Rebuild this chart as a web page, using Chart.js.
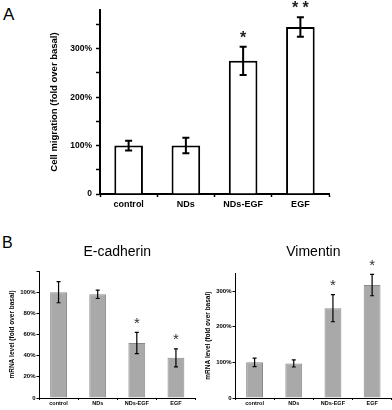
<!DOCTYPE html>
<html><head><meta charset="utf-8">
<script src="https://cdn.jsdelivr.net/npm/chart.js@4.4.1/dist/chart.umd.min.js"></script>
<style>
body{margin:0;background:#fff;width:392px;height:410px;overflow:hidden;position:relative;font-family:"Liberation Sans",Arial,sans-serif}
canvas{position:absolute}
.lbl{position:absolute;line-height:1;color:#000}
</style></head><body>
<div class="lbl" style="left:3px;top:6px;font-size:17px">A</div>
<div class="lbl" style="left:2px;top:235px;font-size:16px">B</div>
<canvas id="cA" width="392" height="215" style="left:0;top:0"></canvas>
<canvas id="cE" width="198" height="170" style="left:0;top:240px"></canvas>
<canvas id="cV" width="196" height="170" style="left:196px;top:240px"></canvas>
<script>
const categories = ['control', 'NDs', 'NDs-EGF', 'EGF'];

const migrationValues = [100, 100, 275, 345];
const migrationErrors = [10, 16, 29, 20];
const migrationStars = ['', '', '*', '* *'];
const migrationTicks = [0, 100, 200, 300];

const ecadValues = [100, 98, 52, 38];
const ecadErrors = [10, 4, 10, 8.5];
const ecadStars = ['', '', '*', '*'];
const ecadTicks = [0, 20, 40, 60, 80, 100];

const vimValues = [100, 97, 252, 317];
const vimErrors = [12, 10, 38, 30];
const vimStars = ['', '', '*', '*'];
const vimTicks = [0, 100, 200, 300];

const FONT = "'Liberation Sans', Arial, sans-serif";
Chart.defaults.font.family = FONT;
Chart.defaults.color = '#000';

function fixScale(w, h) {
  return function (s) {
    if (w != null) s.width = w;
    if (h != null) s.height = h;
    s.paddingTop = 0; s.paddingBottom = 0; s.paddingLeft = 0; s.paddingRight = 0;
  };
}
function pctLabel(list) {
  return function (v) { return list.includes(v) ? (v === 0 ? '0' : v + '%') : ''; };
}

const errPlugin = {
  id: 'errbars',
  afterDatasetsDraw(chart, args, opts) {
    const ctx = chart.ctx, ys = chart.scales.y;
    const meta = chart.getDatasetMeta(0);
    const data = chart.data.datasets[0].data;
    ctx.save();
    meta.data.forEach((bar, i) => {
      const v = data[i], e = opts.errors[i];
      const x = bar.x;
      const yt = ys.getPixelForValue(v + e), yb = ys.getPixelForValue(v - e);
      ctx.strokeStyle = '#000';
      ctx.lineWidth = opts.lineWidth;
      ctx.beginPath();
      ctx.moveTo(x, yt); ctx.lineTo(x, yb);
      ctx.moveTo(x - opts.cap, yt); ctx.lineTo(x + opts.cap, yt);
      ctx.moveTo(x - opts.cap, yb); ctx.lineTo(x + opts.cap, yb);
      ctx.stroke();
      const s = opts.stars[i];
      if (s) {
        ctx.fillStyle = opts.starColor;
        ctx.font = opts.starFont;
        ctx.textAlign = 'center';
        ctx.textBaseline = 'alphabetic';
        ctx.fillText(s, x, yt - opts.starGap + opts.starShift);
      }
    });
    ctx.restore();
  }
};

// Panel A
new Chart(document.getElementById('cA'), {
  type: 'bar',
  data: { labels: categories, datasets: [{ data: migrationValues, backgroundColor: '#fff', borderColor: '#000', borderWidth: 2, barPercentage: 0.5, categoryPercentage: 1 }] },
  options: {
    responsive: false, animation: false, devicePixelRatio: 1,
    layout: { padding: { top: 10, right: 63, left: 0, bottom: 0 } },
    plugins: {
      legend: { display: false }, tooltip: { enabled: false },
      errbars: { errors: migrationErrors, stars: migrationStars, lineWidth: 2, cap: 3.5, starFont: 'bold 16px ' + FONT, starColor: '#222', starGap: 13, starShift: 9 }
    },
    scales: {
      x: {
        offset: true,
        grid: { drawOnChartArea: false, offset: true, tickLength: 3, tickColor: '#000', tickWidth: 1.5 },
        border: { display: true, color: '#000', width: 2 },
        ticks: { font: { size: 9, weight: 'bold' }, padding: 2, color: '#000', maxRotation: 0, autoSkip: false },
        afterFit: fixScale(null, 21)
      },
      y: {
        min: 0, max: 380,
        ticks: { stepSize: 50, callback: pctLabel(migrationTicks), font: { size: 8.5, weight: 'bold' }, padding: 4, color: '#000' },
        grid: { drawOnChartArea: false, tickLength: 4, tickWidth: 1.5, tickColor: c => (c.tick && c.tick.value % 50 === 0) ? '#000' : 'rgba(0,0,0,0)' },
        border: { color: '#000', width: 2 },
        title: { display: true, text: 'Cell migration (fold over basal)', font: { size: 9.5, weight: 'bold' }, padding: { top: 49, bottom: 0 }, color: '#000' },
        afterFit: fixScale(100, null)
      }
    }
  },
  plugins: [errPlugin]
});

function smallChart(id, title, values, errors, stars, ticksList, max, step, titlePad, rightPad) {
  new Chart(document.getElementById(id), {
    type: 'bar',
    data: { labels: categories, datasets: [{ data: values, backgroundColor: '#a9a9a9', borderColor: '#8a8a8a', borderWidth: 1, borderSkipped: 'start', barPercentage: 0.43, categoryPercentage: 1 }] },
    options: {
      responsive: false, animation: false, devicePixelRatio: 1,
      layout: { padding: { top: 0, right: rightPad, left: 0, bottom: 0 } },
      plugins: {
        legend: { display: false }, tooltip: { enabled: false },
        title: { display: true, text: title, fullSize: false, font: { size: 14, weight: 'normal' }, color: '#000', padding: titlePad },
        errbars: { errors: errors, stars: stars, lineWidth: 1.2, cap: 2, starFont: '15px ' + FONT, starColor: '#333', starGap: 13, starShift: 8.5 }
      },
      scales: {
        x: {
          offset: true,
          grid: { drawOnChartArea: false, offset: true, tickLength: 2, tickColor: '#000', tickWidth: 1 },
          border: { display: true, color: '#000', width: 1 },
          ticks: { font: { size: 5.5, weight: 'bold' }, padding: 0, color: '#000', maxRotation: 0, autoSkip: false },
          afterFit: fixScale(null, 12)
        },
        y: {
          min: 0, max: max,
          ticks: { stepSize: step, callback: pctLabel(ticksList), font: { size: 6, weight: 'bold' }, padding: 1, color: '#000' },
          grid: { drawOnChartArea: false, tickLength: 2.5, tickWidth: 1, tickColor: c => (c.tick && (ticksList.includes(c.tick.value) || c.tick.value === max && max % step === 0)) ? '#000' : 'rgba(0,0,0,0)' },
          border: { color: '#000', width: 1 },
          title: { display: true, text: 'mRNA level (fold over basal)', font: { size: 6.5, weight: 'bold' }, padding: { top: 8, bottom: 0 }, color: '#000' },
          afterFit: fixScale(39, null)
        }
      }
    },
    plugins: [errPlugin]
  });
}

smallChart('cE', 'E-cadherin', ecadValues, ecadErrors, ecadStars, ecadTicks, 120, 20, { top: 3.3, bottom: 10.9 }, 2.5);
smallChart('cV', 'Vimentin', vimValues, vimErrors, vimStars, vimTicks, 350, 100, { top: 3.3, bottom: 13.2 }, 0.3);
</script>
</body></html>
